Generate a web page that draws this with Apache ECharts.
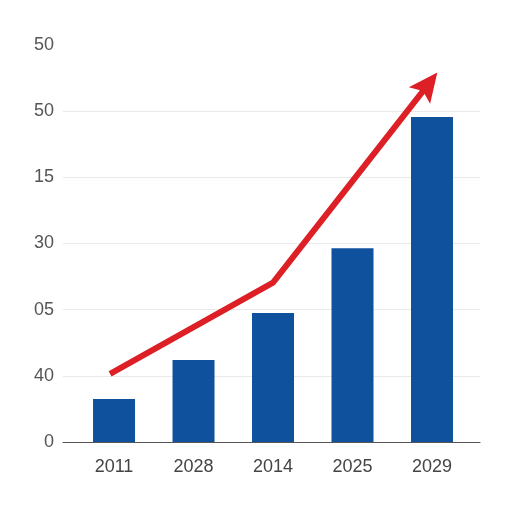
<!DOCTYPE html>
<html lang="en">
<head>
    <meta charset="UTF-8">
    <title>Bar chart with arrow</title>
    <script src="https://cdn.jsdelivr.net/npm/echarts@6/dist/echarts.min.js"></script>
    <style>
        html, body {margin: 0; padding: 0; background: #fff;}
        #main {width: 512px; height: 512px;}
    </style>
</head>
<body>
<div id="main"></div>
<script type="text/javascript">
    // categories and values
    var years = ['2011', '2028', '2014', '2025', '2029'];
    var barValues = [0.65, 1.24, 1.95, 2.93, 4.91];
    var yTickLabels = ['0', '40', '05', '30', '15', '50', '50'];
    // trend arrow: [position on x, value]
    var trendX = [-0.05, 2, 3.955];
    var trendY = [1.03, 2.41, 5.41];

    var myChart = echarts.init(document.getElementById('main'));

    var bars = barValues.map(function (v, i) {
        return [i, v];
    });
    var trend = trendX.map(function (x, i) {
        var item = {value: [x, trendY[i]]};
        if (i == trendX.length - 1) {
            // arrow head, pointing along the last segment
            item.symbol = 'path://M10 0 L20 26 L10 21 L0 26 Z';
            item.symbolSize = [27, 29];
            item.symbolRotate = -38;
        }
        return item;
    });

    var option = {
        animation: false,
        grid: {left: 63, right: 32, top: 45, bottom: 70},
        xAxis: {
            type: 'value',
            min: -0.642,
            max: 4.604,
            splitLine: {show: false},
            axisTick: {show: false},
            axisLine: {show: true, onZero: false, lineStyle: {color: '#555', width: 1.2}},
            axisLabel: {
                customValues: [0, 1, 2, 3, 4],
                formatter: function (v) {
                    return years[Math.round(v)];
                },
                color: '#444',
                fontSize: 18,
                fontFamily: 'Liberation Sans',
                margin: 16
            }
        },
        yAxis: {
            type: 'value',
            min: 0,
            max: 6,
            interval: 1,
            axisLine: {show: false},
            axisTick: {show: false},
            splitLine: {showMaxLine: false, lineStyle: {color: '#e9e9e9', width: 1}},
            axisLabel: {
                formatter: function (v) {
                    return yTickLabels[v];
                },
                color: '#555',
                fontSize: 18,
                fontFamily: 'Liberation Sans',
                margin: 9
            }
        },
        series: [
            {
                type: 'bar',
                data: bars,
                barWidth: 42,
                itemStyle: {color: '#0f519c'}
            },
            {
                type: 'line',
                data: trend,
                symbol: 'none',
                lineStyle: {color: '#dd1f26', width: 6, cap: 'butt', join: 'round'},
                itemStyle: {color: '#dd1f26'},
                z: 5
            }
        ]
    };
    myChart.setOption(option);
</script>
</body>
</html>
